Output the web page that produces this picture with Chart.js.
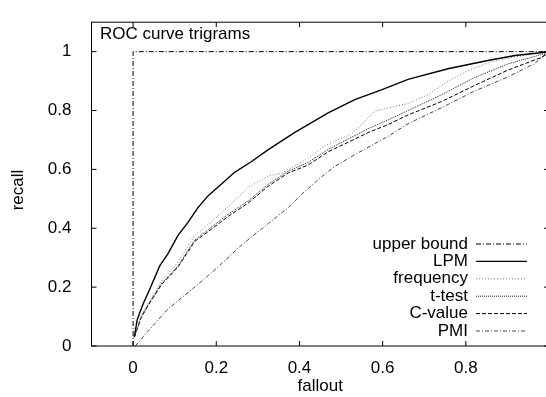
<!DOCTYPE html>
<html>
<head>
<meta charset="utf-8">
<title>ROC curve trigrams</title>
<script src="https://cdn.jsdelivr.net/npm/chart.js@4.4.1/dist/chart.umd.min.js"></script>
<style>
  html, body { margin: 0; padding: 0; background: #fff; overflow: hidden; }
  #wrap { width: 552px; height: 397px; }
</style>
</head>
<body>
<div id="wrap"><canvas id="roc" width="552" height="397"></canvas></div>
<script>
// values
const xTicks = [0, 0.2, 0.4, 0.6, 0.8];
const yTicks = [0, 0.2, 0.4, 0.6, 0.8, 1];

const seriesNames = ['upper bound', 'LPM', 'frequency', 't-test', 'C-value', 'PMI'];

const upperX = [0, 0, 1];
const upperY = [0, 1, 1];

const lpmX = [0.003, 0.01, 0.024, 0.04, 0.064, 0.084, 0.108, 0.132, 0.156, 0.18, 0.22, 0.244, 0.284, 0.325, 0.389, 0.469, 0.533, 0.597, 0.661, 0.757, 0.853, 0.918, 0.99, 1];
const lpmY = [0.03, 0.09, 0.143, 0.193, 0.272, 0.314, 0.376, 0.42, 0.47, 0.51, 0.56, 0.59, 0.626, 0.667, 0.726, 0.792, 0.837, 0.87, 0.906, 0.942, 0.97, 0.987, 0.998, 1];

const freqX = [0.003, 0.02, 0.036, 0.068, 0.108, 0.148, 0.196, 0.228, 0.276, 0.325, 0.357, 0.421, 0.461, 0.525, 0.546, 0.581, 0.661, 0.709, 0.757, 0.805, 0.853, 0.901, 0.99, 1];
const freqY = [0.03, 0.105, 0.142, 0.22, 0.285, 0.375, 0.432, 0.472, 0.538, 0.578, 0.587, 0.637, 0.681, 0.72, 0.748, 0.798, 0.824, 0.853, 0.9, 0.935, 0.962, 0.978, 0.998, 1];

const midX = [0.003, 0.02, 0.036, 0.068, 0.108, 0.148, 0.196, 0.228, 0.276, 0.325, 0.373, 0.421, 0.469, 0.517, 0.565, 0.613, 0.661, 0.741, 0.821, 0.901, 0.981, 1];
const ttestY = [0.03, 0.1, 0.14, 0.212, 0.272, 0.36, 0.412, 0.447, 0.492, 0.55, 0.594, 0.624, 0.668, 0.703, 0.738, 0.768, 0.8, 0.853, 0.912, 0.958, 0.99, 0.997];
const cvalueY = [0.03, 0.098, 0.137, 0.208, 0.268, 0.355, 0.405, 0.44, 0.485, 0.543, 0.588, 0.615, 0.66, 0.692, 0.725, 0.752, 0.785, 0.83, 0.885, 0.937, 0.98, 0.995];

const pmiX = [0.005, 0.012, 0.052, 0.084, 0.148, 0.204, 0.26, 0.325, 0.373, 0.405, 0.453, 0.485, 0.533, 0.565, 0.613, 0.661, 0.741, 0.821, 0.901, 0.965, 0.99, 1];
const pmiY = [0.0, 0.011, 0.076, 0.126, 0.2, 0.268, 0.342, 0.416, 0.47, 0.515, 0.575, 0.61, 0.65, 0.675, 0.712, 0.755, 0.809, 0.866, 0.914, 0.959, 0.99, 0.995];

const FONT = '"Liberation Sans", Arial, Helvetica, sans-serif';

const zip = (xs, ys) => xs.map((x, i) => ({ x: x, y: ys[i] }));

// gnuplot-like frame with inward ticks, title, ylabel and legend
const gnuFrame = {
  id: 'gnuFrame',
  afterDatasetsDraw(chart) {
    const { ctx, chartArea: a, scales } = chart;
    ctx.save();
    ctx.strokeStyle = '#000';
    ctx.lineWidth = 1;
    ctx.setLineDash([]);
    ctx.strokeRect(a.left, a.top, a.right - a.left, a.bottom - a.top);

    const len = 5;
    ctx.beginPath();
    xTicks.forEach(v => {
      const px = scales.x.getPixelForValue(v);
      ctx.moveTo(px, a.bottom); ctx.lineTo(px, a.bottom - len);
      ctx.moveTo(px, a.top); ctx.lineTo(px, a.top + len);
    });
    yTicks.forEach(v => {
      const py = scales.y.getPixelForValue(v);
      ctx.moveTo(a.left, py); ctx.lineTo(a.left + len, py);
      ctx.moveTo(a.right, py); ctx.lineTo(a.right - len, py);
    });
    ctx.stroke();

    ctx.fillStyle = '#000';
    ctx.font = '17px ' + FONT;
    ctx.textAlign = 'left';
    ctx.textBaseline = 'alphabetic';
    ctx.fillText('ROC curve trigrams', 100, 39);

    ctx.save();
    ctx.translate(18, 190);
    ctx.rotate(-Math.PI / 2);
    ctx.textAlign = 'center';
    ctx.textBaseline = 'middle';
    ctx.fillText('recall', 0, 0);
    ctx.restore();

    // legend, text on the left of the sample line
    ctx.textAlign = 'right';
    ctx.textBaseline = 'middle';
    chart.data.datasets.forEach((ds, i) => {
      const y = 244 + 17.4 * i;
      ctx.fillStyle = '#000';
      ctx.fillText(ds.label, 468, y);
      ctx.beginPath();
      ctx.strokeStyle = ds.borderColor;
      ctx.lineWidth = ds.borderWidth;
      ctx.setLineDash(ds.borderDash || []);
      ctx.moveTo(476, y);
      ctx.lineTo(527, y);
      ctx.stroke();
    });
    ctx.restore();
  }
};

const lineStyle = (color, width, dash) => ({
  borderColor: color,
  borderWidth: width,
  borderDash: dash,
  pointRadius: 0,
  fill: false,
  tension: 0
});

new Chart(document.getElementById('roc'), {
  type: 'line',
  data: {
    datasets: [
      Object.assign({ label: seriesNames[0], data: zip(upperX, upperY) }, lineStyle('#000', 1, [5, 2, 1, 2])),
      Object.assign({ label: seriesNames[1], data: zip(lpmX, lpmY) }, lineStyle('#000', 1.4, [])),
      Object.assign({ label: seriesNames[2], data: zip(freqX, freqY) }, lineStyle('#777', 1, [1, 2])),
      Object.assign({ label: seriesNames[3], data: zip(midX, ttestY) }, lineStyle('#222', 1, [1, 1])),
      Object.assign({ label: seriesNames[4], data: zip(midX, cvalueY) }, lineStyle('#000', 1, [4, 2])),
      Object.assign({ label: seriesNames[5], data: zip(pmiX, pmiY) }, lineStyle('#444', 1, [4, 2, 1, 2]))
    ]
  },
  options: {
    responsive: false,
    animation: false,
    events: [],
    layout: { padding: { left: 0, right: 3, top: 16, bottom: 0 } },
    plugins: {
      legend: { display: false },
      tooltip: { enabled: false },
      title: { display: false }
    },
    scales: {
      x: {
        type: 'linear',
        min: -0.1,
        max: 1.0,
        afterBuildTicks: s => { s.ticks = xTicks.map(v => ({ value: v })); },
        afterFit: s => { s.height = 51; },
        grid: { display: false },
        border: { display: false },
        ticks: {
          color: '#000',
          padding: 4,
          maxRotation: 0,
          font: { family: FONT, size: 17 },
          callback: v => String(v)
        },
        title: {
          display: true,
          text: 'fallout',
          color: '#000',
          font: { family: FONT, size: 17 },
          padding: { top: 0, bottom: 0 }
        }
      },
      y: {
        type: 'linear',
        min: 0,
        max: 1.1,
        afterBuildTicks: s => { s.ticks = yTicks.map(v => ({ value: v })); },
        afterFit: s => { s.width = 91.5; },
        grid: { display: false },
        border: { display: false },
        ticks: {
          color: '#000',
          padding: 12,
          font: { family: FONT, size: 17 },
          callback: v => String(v)
        }
      }
    }
  },
  plugins: [gnuFrame]
});
</script>
</body>
</html>
